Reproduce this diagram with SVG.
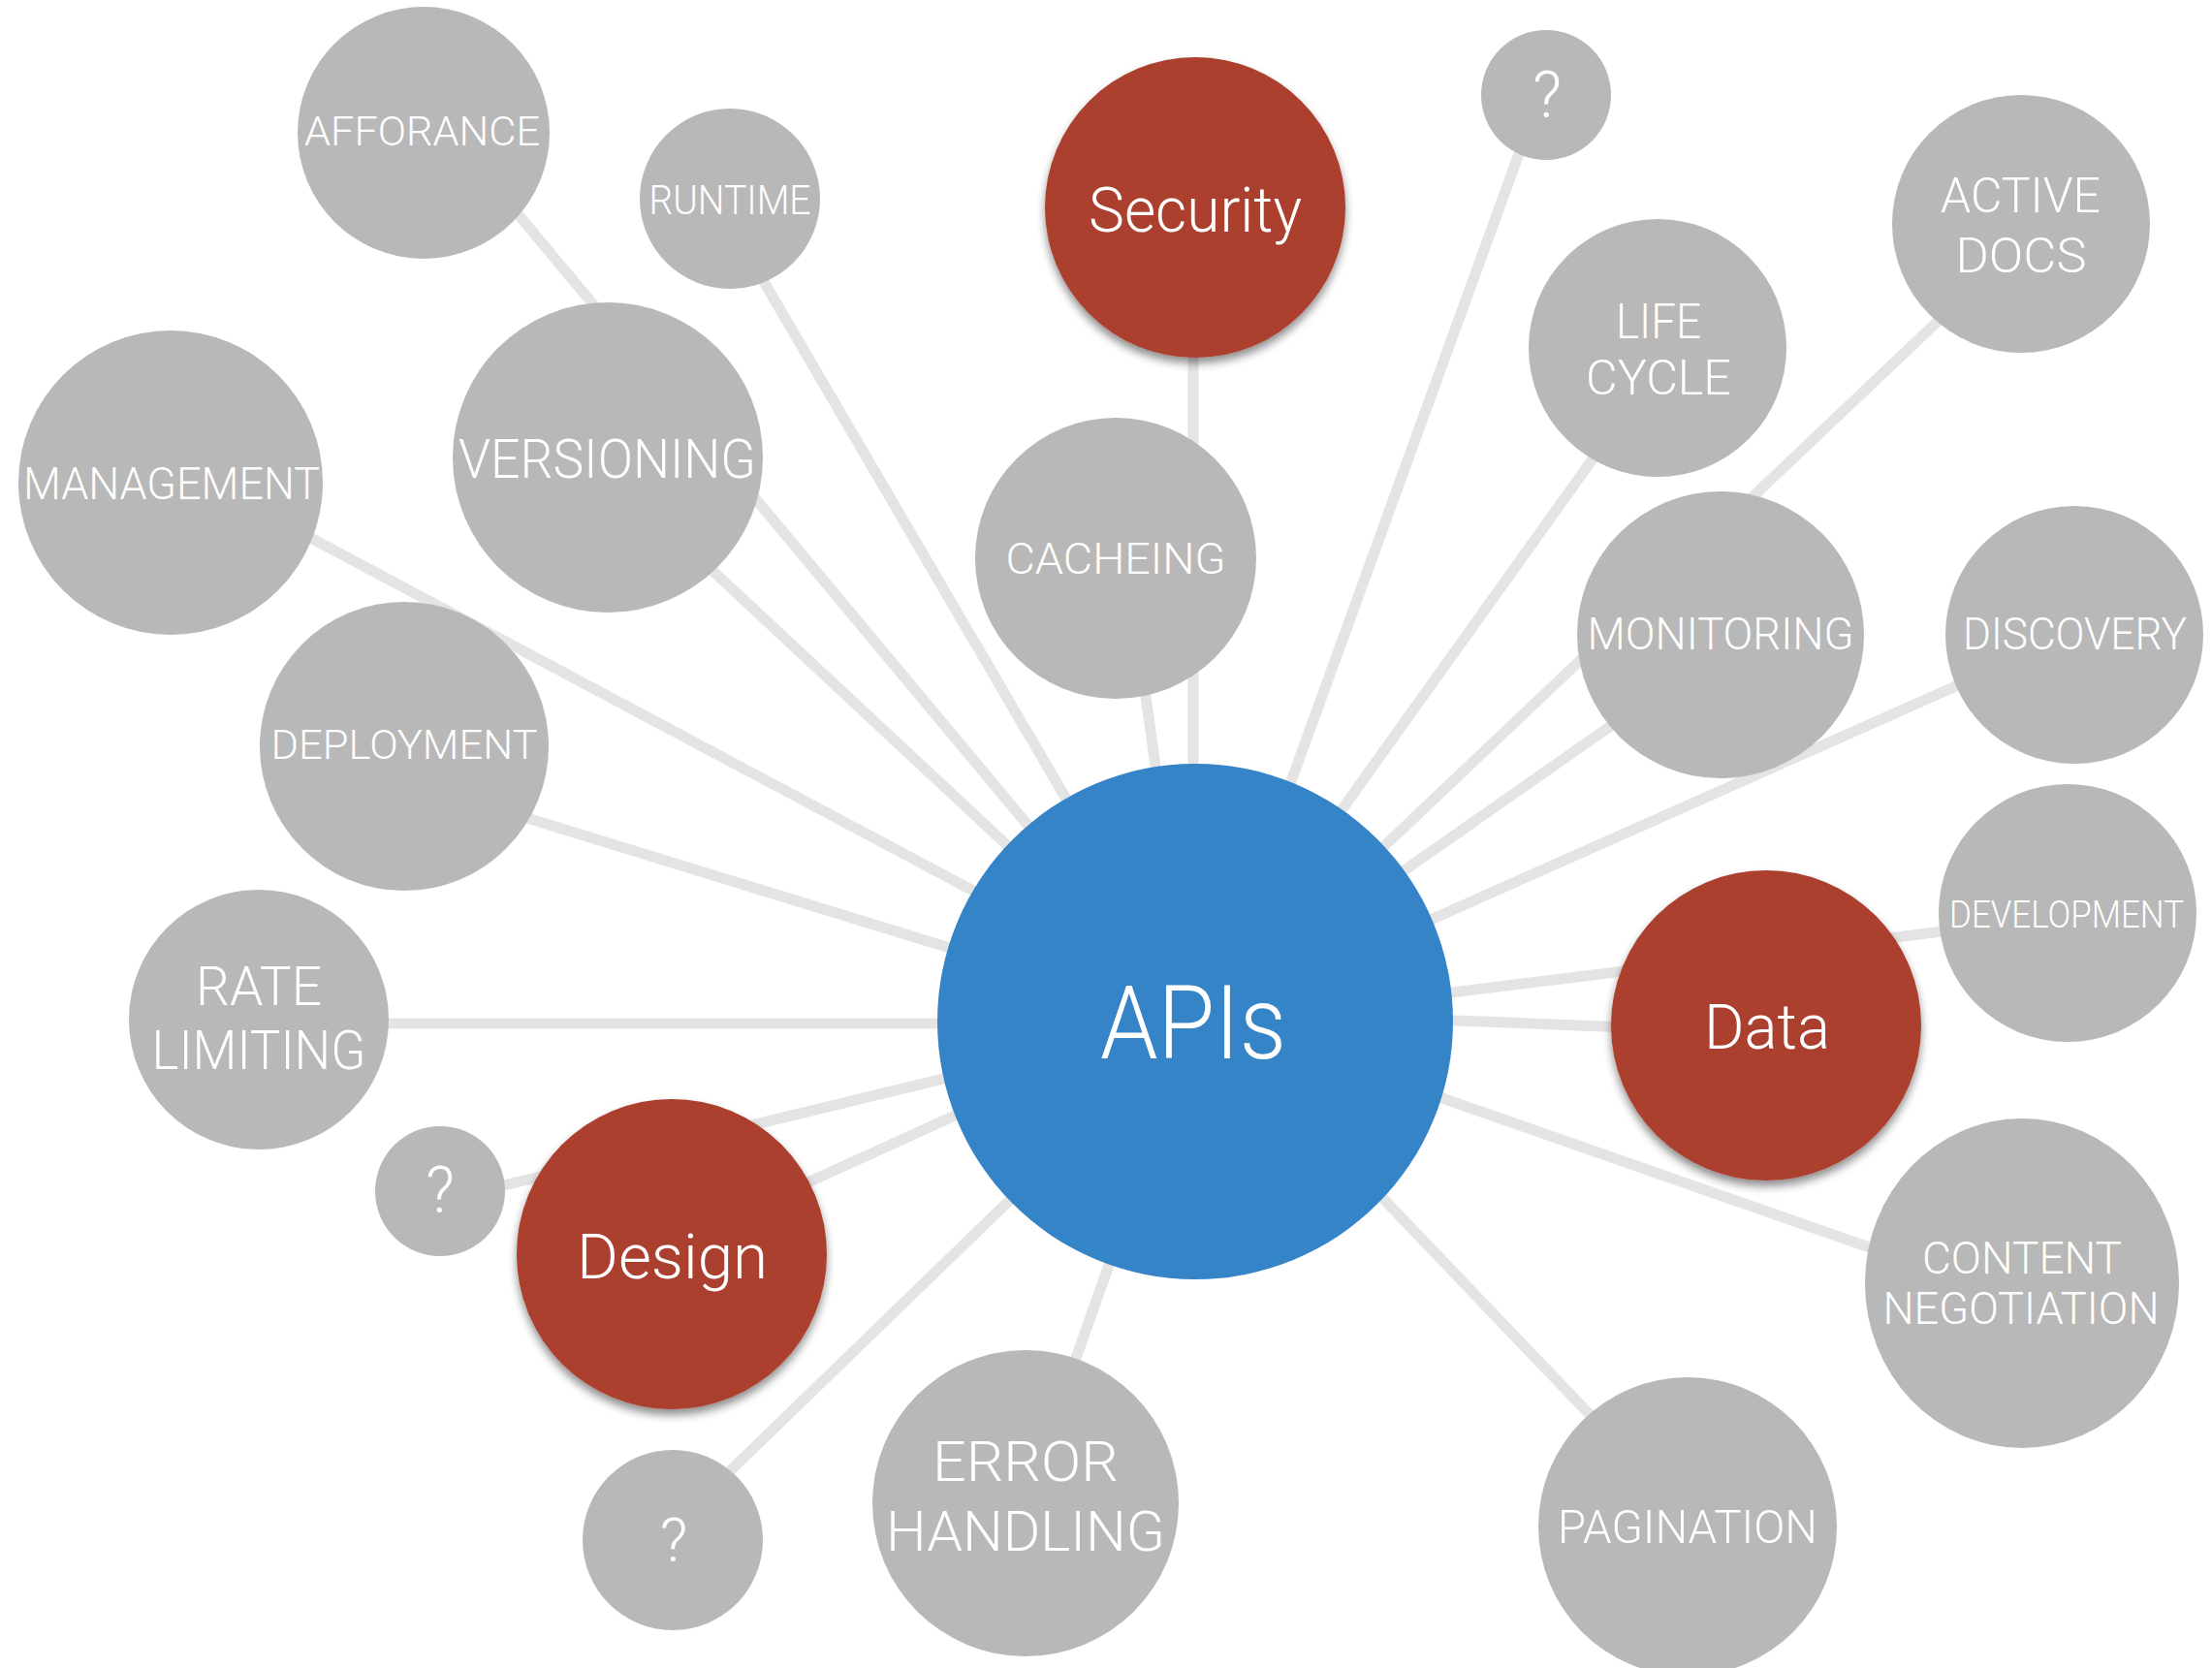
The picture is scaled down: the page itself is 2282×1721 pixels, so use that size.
<svg xmlns="http://www.w3.org/2000/svg" width="2282" height="1721" viewBox="0 0 2282 1721">
<style>
.ln{stroke:#e4e4e4;stroke-width:11;fill:none}
.g{fill:#b8b8b8}
.r{fill:#b04231}
.b{fill:#3584c8}
text{font-family:Roboto,"Liberation Sans",Arial,sans-serif;font-weight:300;fill:#ffffff;text-anchor:middle}
</style>
<defs>
<filter id="shadow" x="-20%" y="-20%" width="140%" height="150%">
<feGaussianBlur in="SourceAlpha" stdDeviation="5"/>
<feOffset dx="0" dy="6" result="ob"/>
<feComponentTransfer in="ob" result="sh"><feFuncA type="linear" slope="0.45"/></feComponentTransfer>
<feTurbulence type="fractalNoise" baseFrequency="0.9" numOctaves="2" seed="3" result="noise"/>
<feColorMatrix in="noise" type="matrix" values="0 0 0 0 0  0 0 0 0 0  0 0 0 0 0  0 0 0 0.12 0" result="dark"/>
<feComposite in="dark" in2="SourceGraphic" operator="in" result="tex"/>
<feMerge><feMergeNode in="sh"/><feMergeNode in="SourceGraphic"/><feMergeNode in="tex"/></feMerge>
</filter>
</defs>
<rect width="2282" height="1721" fill="#ffffff"/>
<g id="connectors">
<line class="ln" x1="470" y1="144" x2="1233" y2="1058"/>
<line class="ln" x1="752" y1="229" x2="1233" y2="1052"/>
<line class="ln" x1="627" y1="488" x2="1233" y2="1053"/>
<line class="ln" x1="176" y1="478" x2="1233" y2="1041"/>
<line class="ln" x1="417" y1="805" x2="1233" y2="1056"/>
<line class="ln" x1="1231" y1="214" x2="1231" y2="1054"/>
<line class="ln" x1="1162" y1="576" x2="1229" y2="1054"/>
<line class="ln" x1="1589" y1="98" x2="1242" y2="1054"/>
<line class="ln" x1="1725" y1="359" x2="1228" y2="1054"/>
<line class="ln" x1="2085" y1="250" x2="1233" y2="1058"/>
<line class="ln" x1="1776" y1="669" x2="1233" y2="1049"/>
<line class="ln" x1="2139" y1="654" x2="1233" y2="1057"/>
<line class="ln" x1="2133" y1="945" x2="1233" y2="1057"/>
<line class="ln" x1="1822" y1="1066" x2="1233" y2="1042"/>
<line class="ln" x1="2086" y1="1342" x2="1233" y2="1044"/>
<line class="ln" x1="1741" y1="1565" x2="1233" y2="1034"/>
<line class="ln" x1="1057" y1="1551" x2="1233" y2="1054"/>
<line class="ln" x1="694" y1="1575" x2="1233" y2="1053"/>
<line class="ln" x1="693" y1="1284" x2="1233" y2="1038"/>
<line class="ln" x1="454" y1="1239" x2="1233" y2="1050"/>
<line class="ln" x1="266" y1="1056" x2="1233" y2="1056"/>
</g>
<g id="affordance"><circle class="g" cx="437" cy="137" r="130"/><text x="435.5" y="150" font-size="42" textLength="243" lengthAdjust="spacingAndGlyphs">AFFORANCE</text></g>
<g id="runtime"><circle class="g" cx="753" cy="205" r="93"/><text x="753" y="221" font-size="42" textLength="167" lengthAdjust="spacingAndGlyphs">RUNTIME</text></g>
<g id="security"><circle class="r" cx="1233" cy="214" r="155" filter="url(#shadow)"/><text x="1233" y="239" font-size="65" textLength="220" lengthAdjust="spacingAndGlyphs">Security</text></g>
<g id="q-top"><circle class="g" cx="1595" cy="98" r="67"/><text x="1596" y="121" font-size="66">?</text></g>
<g id="active-docs"><circle class="g" cx="2085" cy="231" r="133"/><text x="2084.5" y="219" font-size="50" textLength="165" lengthAdjust="spacingAndGlyphs">ACTIVE</text><text x="2085" y="281" font-size="50" textLength="135" lengthAdjust="spacingAndGlyphs">DOCS</text></g>
<g id="life-cycle"><circle class="g" cx="1710" cy="359" r="133"/><text x="1711" y="349" font-size="50" textLength="88" lengthAdjust="spacingAndGlyphs">LIFE</text><text x="1711" y="407" font-size="50" textLength="150" lengthAdjust="spacingAndGlyphs">CYCLE</text></g>
<g id="management"><circle class="g" cx="176" cy="498" r="157"/><text x="177" y="514.5" font-size="47" textLength="306" lengthAdjust="spacingAndGlyphs">MANAGEMENT</text></g>
<g id="versioning"><circle class="g" cx="627" cy="472" r="160"/><text x="626.5" y="493" font-size="55" textLength="307" lengthAdjust="spacingAndGlyphs">VERSIONING</text></g>
<g id="cacheing"><circle class="g" cx="1151" cy="576" r="145"/><text x="1151" y="592" font-size="45" textLength="227" lengthAdjust="spacingAndGlyphs">CACHEING</text></g>
<g id="monitoring"><circle class="g" cx="1775" cy="655" r="148"/><text x="1775" y="670" font-size="47" textLength="275" lengthAdjust="spacingAndGlyphs">MONITORING</text></g>
<g id="discovery"><circle class="g" cx="2140" cy="655" r="133"/><text x="2140.5" y="670" font-size="47" textLength="231" lengthAdjust="spacingAndGlyphs">DISCOVERY</text></g>
<g id="deployment"><circle class="g" cx="417" cy="770" r="149"/><text x="417" y="783" font-size="43" textLength="275" lengthAdjust="spacingAndGlyphs">DEPLOYMENT</text></g>
<g id="apis"><circle class="b" cx="1233" cy="1054" r="266"/><text x="1231" y="1092" font-size="105" textLength="192" lengthAdjust="spacingAndGlyphs">APIs</text></g>
<g id="development"><circle class="g" cx="2133" cy="942" r="133"/><text x="2132" y="957" font-size="38" textLength="242" lengthAdjust="spacingAndGlyphs">DEVELOPMENT</text></g>
<g id="data"><circle class="r" cx="1822" cy="1058" r="160" filter="url(#shadow)"/><text x="1823" y="1082" font-size="64" textLength="130" lengthAdjust="spacingAndGlyphs">Data</text></g>
<g id="rate-limiting"><circle class="g" cx="267" cy="1052" r="134"/><text x="267" y="1037" font-size="55" textLength="130" lengthAdjust="spacingAndGlyphs">RATE</text><text x="267" y="1103" font-size="55" textLength="221" lengthAdjust="spacingAndGlyphs">LIMITING</text></g>
<g id="q-left"><circle class="g" cx="454" cy="1229" r="67"/><text x="454" y="1251" font-size="66">?</text></g>
<g id="design"><circle class="r" cx="693" cy="1294" r="160" filter="url(#shadow)"/><text x="693.5" y="1318.5" font-size="64" textLength="197" lengthAdjust="spacingAndGlyphs">Design</text></g>
<g id="content-negotiation"><ellipse class="g" cx="2086" cy="1324" rx="162" ry="170"/><text x="2086" y="1314" font-size="47" textLength="206" lengthAdjust="spacingAndGlyphs">CONTENT</text><text x="2085" y="1366" font-size="47" textLength="285" lengthAdjust="spacingAndGlyphs">NEGOTIATION</text></g>
<g id="q-bottom"><circle class="g" cx="694" cy="1589" r="93"/><text x="695" y="1611" font-size="63">?</text></g>
<g id="error-handling"><circle class="g" cx="1058" cy="1551" r="158"/><text x="1058" y="1528" font-size="57" textLength="192" lengthAdjust="spacingAndGlyphs">ERROR</text><text x="1058" y="1600" font-size="57" textLength="288" lengthAdjust="spacingAndGlyphs">HANDLING</text></g>
<g id="pagination"><circle class="g" cx="1741" cy="1575" r="154"/><text x="1741" y="1592" font-size="49" textLength="268" lengthAdjust="spacingAndGlyphs">PAGINATION</text></g>
</svg>
